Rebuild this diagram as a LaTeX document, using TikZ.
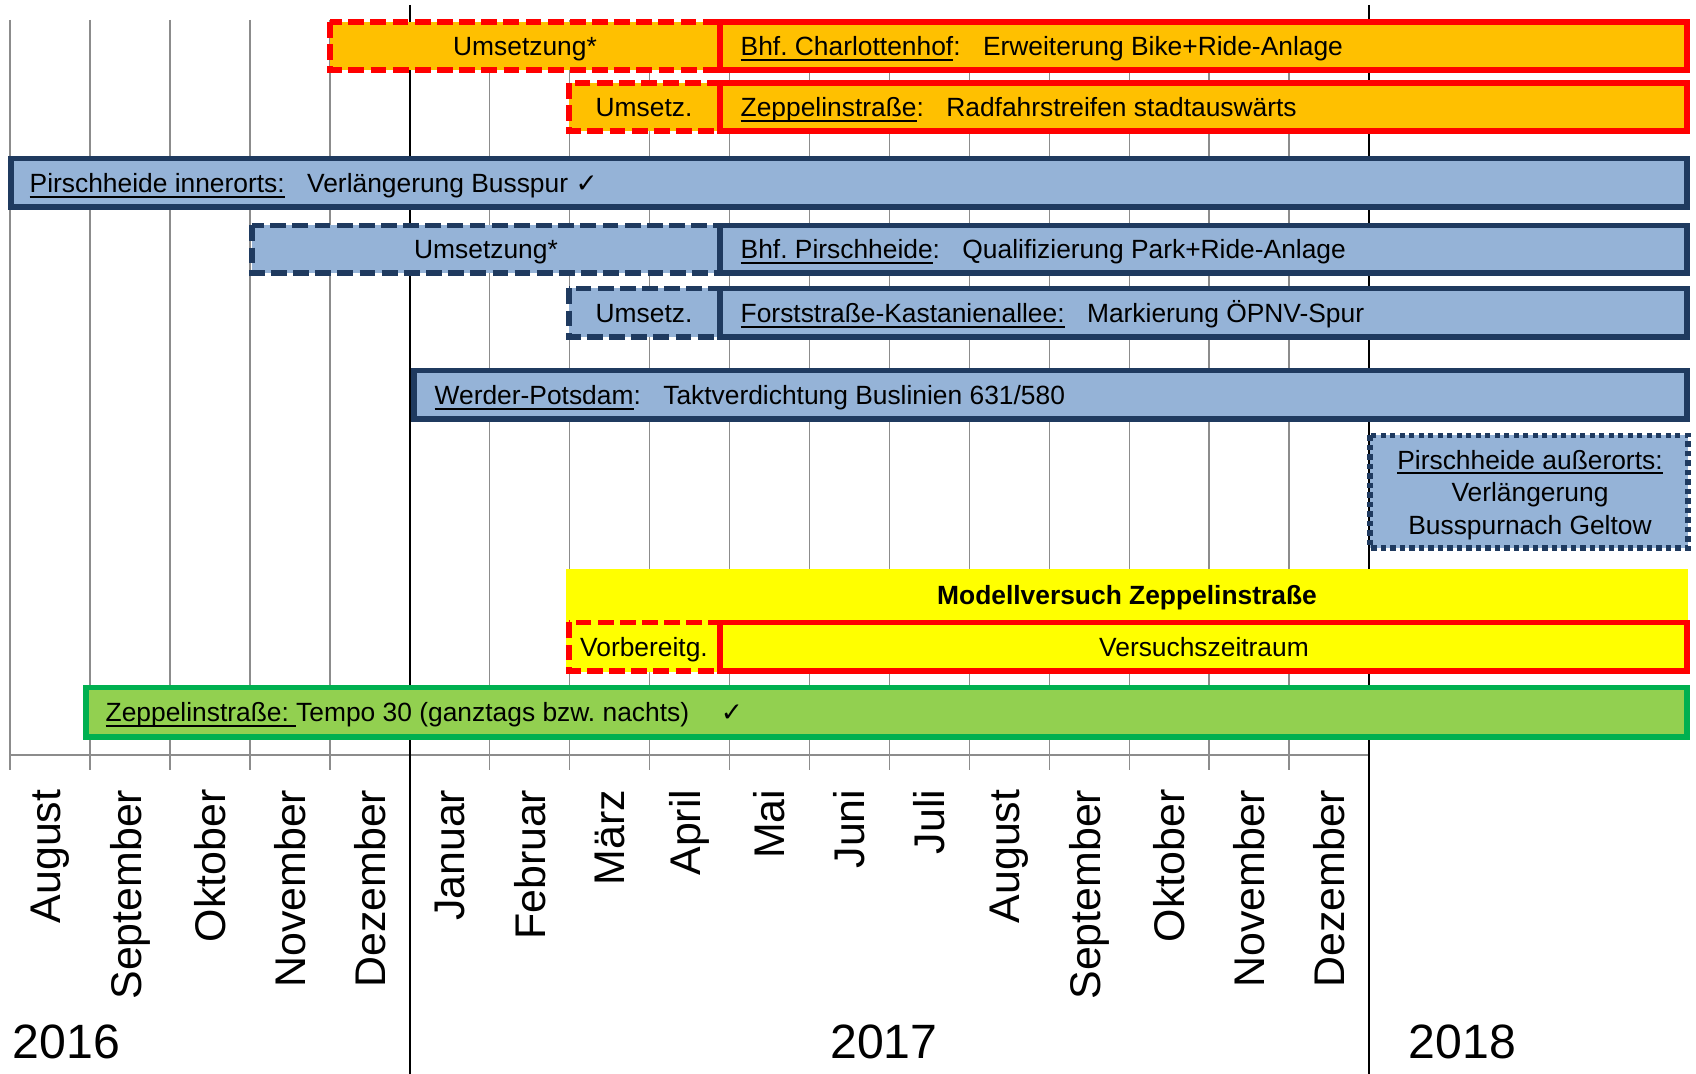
\documentclass[tikz,border=0pt]{standalone}
\usepackage{fontspec}
\setmainfont{Liberation Sans}
\newfontfamily\symfont{DejaVu Sans}

\definecolor{barorange}{HTML}{FFC000}
\definecolor{barred}{HTML}{FF0000}
\definecolor{barblue}{HTML}{95B3D7}
\definecolor{barnavy}{HTML}{1F3A5F}
\definecolor{baryellow}{HTML}{FFFF00}
\definecolor{bargreen}{HTML}{92D050}
\definecolor{bargreenline}{HTML}{00B050}
\definecolor{gridgray}{HTML}{8C8C8C}

\newcommand{\chk}{{\symfont ✓}}
\newcommand{\gap}{\hspace{0.85em}}
\newcommand{\ul}[1]{\setbox0\hbox{#1}\rlap{\rule[-1.3pt]{\wd0}{0.55pt}}\box0}
\frenchspacing

\begin{document}
\begin{tikzpicture}[
  x=0.01cm, y=-0.01cm,
  gridline/.style={gridgray, line width=0.45pt},
  yearline/.style={black, line width=0.8pt},
  orangebar/.style={fill=barorange, draw=barred, line width=1.45pt},
  orangeplan/.style={orangebar, dash pattern=on 4.5pt off 1.8pt},
  bluebar/.style={fill=barblue, draw=barnavy, line width=1.45pt},
  blueplan/.style={bluebar, dash pattern=on 4.5pt off 1.8pt},
  bluedots/.style={bluebar, dash pattern=on 1.5pt off 1.2pt},
  yellowbar/.style={fill=baryellow, draw=barred, line width=1.45pt},
  yellowplan/.style={yellowbar, dash pattern=on 4.5pt off 1.8pt},
  greenbar/.style={fill=bargreen, draw=bargreenline, line width=1.45pt},
  bartext/.style={inner sep=0pt, font=\fontsize{7.5}{9.25}\selectfont},
  lefttext/.style={bartext, anchor=base west},
  midtext/.style={bartext, anchor=base},
  month/.style={rotate=90, anchor=east, inner sep=0pt, font=\fontsize{12.2}{14}\selectfont},
  year/.style={anchor=base west, inner sep=0pt, font=\fontsize{13.7}{16}\selectfont}
]
\useasboundingbox (0,0) rectangle (1696,1074);

% --- Grid: months ---
\foreach \i in {0,...,16}
  \draw[gridline] ({10+79.95*\i},20) -- ({10+79.95*\i},770);
\draw[gridline, line width=0.6pt] (10,755) -- (1369,755);

% --- Grid: year borders ---
\draw[yearline] (410,5) -- (410,1074);
\draw[yearline] (1369,5) -- (1369,1074);

% --- Month labels ---
\foreach \m [count=\i from 0] in {August,September,Oktober,November,Dezember,Januar,Februar,März,April,Mai,Juni,Juli,August,September,Oktober,November,Dezember}
  \node[month] (m\i) at ({50+79.95*\i},789) {\m};

% --- Year labels ---
\node[year] (y2016) at (12,1059) {2016};
\node[year, anchor=base] (y2017) at (884,1059) {2017};
\node[year] (y2018) at (1408,1059) {2018};

% --- Bhf. Charlottenhof ---
\draw[orangeplan] (330,22) rectangle (720,70);
\draw[orangebar] (720,22) rectangle (1687,70);
\node[midtext] (charlU) at (525,56) {Umsetzung*};
\node[lefttext] (charl) at (740,56) {\ul{Bhf. Charlottenhof}:\gap Erweiterung Bike+Ride-Anlage};

% --- Zeppelinstrasse Radfahrstreifen ---
\draw[orangeplan] (569,83) rectangle (720,131);
\draw[orangebar] (720,83) rectangle (1687,131);
\node[midtext] (radU) at (644,117) {Umsetz.};
\node[lefttext] (rad) at (740,117) {\ul{Zeppelinstraße}:\gap Radfahrstreifen stadtauswärts};

% --- Pirschheide innerorts ---
\draw[bluebar] (11,158.5) rectangle (1687,207);
\node[lefttext] (inner) at (29,193) {\ul{Pirschheide innerorts:}\gap Verlängerung Busspur \chk};

% --- Bhf. Pirschheide ---
\draw[blueplan] (252,225.5) rectangle (720,273);
\draw[bluebar] (720,225.5) rectangle (1687,273);
\node[midtext] (pirschU) at (486,259) {Umsetzung*};
\node[lefttext] (pirsch) at (740,259) {\ul{Bhf. Pirschheide}:\gap Qualifizierung Park+Ride-Anlage};

% --- Forststrasse-Kastanienallee ---
\draw[blueplan] (569,288.5) rectangle (720,337);
\draw[bluebar] (720,288.5) rectangle (1687,337);
\node[midtext] (forstU) at (644,323) {Umsetz.};
\node[lefttext] (forst) at (740,323) {\ul{Forststraße-Kastanienallee:}\gap Markierung ÖPNV-Spur};

% --- Werder-Potsdam ---
\draw[bluebar] (414,370.5) rectangle (1687,419);
\node[lefttext] (werder) at (434,405) {\ul{Werder-Potsdam}:\gap Taktverdichtung Buslinien 631/580};

% --- Pirschheide ausserorts ---
\draw[bluedots] (1370,435.5) rectangle (1688,548);
\node[bartext, align=center] (aussen) at (1530,495) {\ul{Pirschheide außerorts:}\\Verlängerung\\Busspurnach Geltow};

% --- Modellversuch ---
\fill[baryellow] (566,569) rectangle (1688,672);
\node[midtext, font=\fontsize{7.5}{9.25}\selectfont\bfseries] (modell) at (1127,605) {Modellversuch Zeppelinstraße};
\draw[yellowplan] (569,622.5) rectangle (720,671);
\draw[yellowbar] (720,622.5) rectangle (1687,671);
\node[midtext] (vorb) at (644,657) {Vorbereitg.};
\node[midtext] (versuch) at (1204,657) {Versuchszeitraum};

% --- Tempo 30 ---
\draw[greenbar] (86,687.5) rectangle (1687,737);
\node[lefttext] (tempo) at (105,722) {\ul{Zeppelinstraße:\ }Tempo 30 (ganztags bzw. nachts)\hspace{1.2em}\chk};

\end{tikzpicture}
\end{document}
